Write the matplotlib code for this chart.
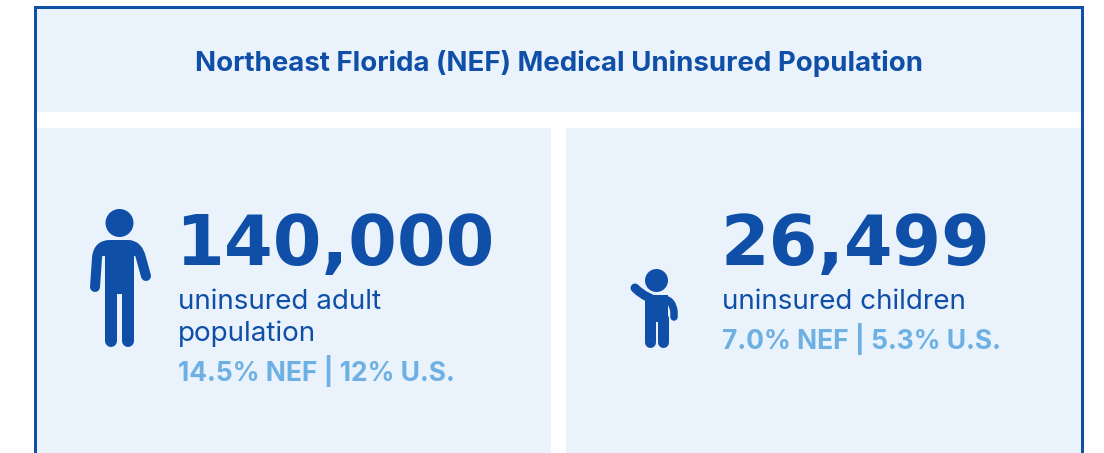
import matplotlib
matplotlib.use('Agg')
import matplotlib.pyplot as plt
from matplotlib.patches import Rectangle, Circle, PathPatch
from matplotlib.path import Path

## text of the chart
title = 'Northeast Florida (NEF) Medical Uninsured Population'
adult_value = '140,000'
adult_label = ['uninsured adult', 'population']
adult_rates = '14.5% NEF | 12% U.S.'
child_value = '26,499'
child_label = ['uninsured children']
child_rates = '7.0% NEF | 5.3% U.S.'

dark = '#0f4fa8'
light = '#6cb0e4'
panel = '#eaf2fb'
font = ['Inter', 'DejaVu Sans']
font_big = ['DejaVu Sans']

fig = plt.figure(figsize=(11.04, 4.53), dpi=100)
ax = fig.add_axes([0, 0, 1, 1])
ax.set_xlim(0, 1104)
ax.set_ylim(453, 0)
ax.axis('off')

px = 72 / 100  # one pixel in points


def box(x0, y0, x1, y1, col):
    ax.add_patch(Rectangle((x0, y0), x1 - x0, y1 - y0, fc=col, ec='none'))


def stroke(verts, codes, w):
    ax.add_patch(PathPatch(Path(verts, codes), fc='none', ec=dark, lw=w * px,
                           capstyle='round', joinstyle='round'))


def label(x, y, s, size, col, weight='normal', ha='left', fam=font):
    ax.text(x, y, s, fontsize=size, color=col, fontweight=weight, ha=ha,
            va='baseline', family=fam)


## frame and panels
box(34, 6, 1084, 453, dark)
box(37, 9, 1081, 453, 'white')
box(37, 9, 1081, 112, panel)
box(37, 128, 551, 453, panel)
box(566, 128, 1081, 453, panel)

## adult figure
M, L, C = Path.MOVETO, Path.LINETO, Path.CURVE3
ax.add_patch(Circle((119.5, 223), 14, fc=dark, ec='none'))
stroke([(95, 287), (97, 258), (98, 245), (110, 245), (128, 245), (138, 245), (141, 258), (146, 276)],
       [M, L, C, C, L, C, C, L], 10)
box(100, 245, 138, 256, dark)
box(105, 245, 133.5, 294, dark)
stroke([(111, 290), (111, 341)], [M, L], 12)
stroke([(127.5, 290), (127.5, 341)], [M, L], 12)

## child figure
ax.add_patch(Circle((656.5, 280.5), 11.5, fc=dark, ec='none'))
stroke([(635, 288), (642, 295), (650, 298)], [M, C, C], 9)
stroke([(662, 299), (673, 299), (674, 312), (674, 317)], [M, C, C, L], 7.5)
box(644.5, 295, 668, 322, dark)
stroke([(650, 318), (650, 342)], [M, L], 11)
stroke([(662.5, 318), (662.5, 342)], [M, L], 11)

## text
label(559, 71, title, 19.9, dark, 'bold', 'center')
label(175, 265, adult_value, 50.5, dark, 'bold', fam=font_big)
label(178, 309, adult_label[0], 20, dark)
label(178, 341, adult_label[1], 20, dark)
label(178, 381, adult_rates, 19, light, 'bold')
label(720, 265, child_value, 50.3, dark, 'bold', fam=font_big)
label(722, 309, child_label[0], 20, dark)
label(722, 349, child_rates, 19, light, 'bold')

fig.savefig('out.png', dpi=100)
